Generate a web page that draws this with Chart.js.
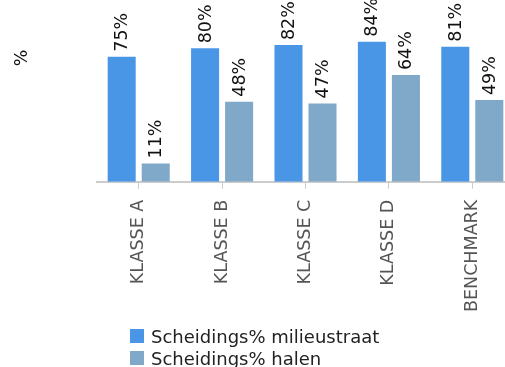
<!DOCTYPE html>
<html>
<head>
<meta charset="utf-8">
<script src="https://cdn.jsdelivr.net/npm/chart.js@4/dist/chart.umd.min.js"></script>
<style>
  html, body { margin:0; padding:0; background:#fff; overflow:hidden; width:505px; height:367px; }
  .wrap { position:relative; width:514px; height:326px; }
  #legend { position:absolute; left:130px; top:325px; font-family:'DejaVu Sans', Verdana, sans-serif; font-size:18px; color:#222; }
  #legend .item { display:flex; align-items:center; height:22px; white-space:nowrap; }
  #legend .box { width:14px; height:14px; margin-right:7px; flex:none; }
</style>
</head>
<body>
<div class="wrap"><canvas id="chart" width="514" height="326"></canvas></div>
<div id="legend"></div>
<script>
// data
const categories = ['KLASSE A', 'KLASSE B', 'KLASSE C', 'KLASSE D', 'BENCHMARK'];
const milieustraat = [75, 80, 82, 84, 81];
const halen = [11, 48, 47, 64, 49];
const seriesNames = ['Scheidings% milieustraat', 'Scheidings% halen'];
const seriesColors = ['#4a96e6', '#80a8c8'];
const axisTitle = '%';

const FONT = "'DejaVu Sans', Verdana, sans-serif";

// labels boven de balken, gedraaid
const barLabels = {
  id: 'barLabels',
  afterDatasetsDraw(chart){
    const ctx = chart.ctx;
    ctx.save();
    ctx.font = '17.5px ' + FONT;
    ctx.fillStyle = '#111';
    ctx.textAlign = 'left';
    ctx.textBaseline = 'middle';
    chart.data.datasets.forEach((ds, i)=>{
      const meta = chart.getDatasetMeta(i);
      meta.data.forEach((el, j)=>{
        ctx.save();
        ctx.translate(el.x + 1, el.y - 5);
        ctx.rotate(-Math.PI/2);
        ctx.fillText(ds.data[j] + '%', 0, 0);
        ctx.restore();
      });
    });
    ctx.restore();
  }
};

// de losse "%" links boven
const sideTitle = {
  id: 'sideTitle',
  afterDraw(chart){
    const ctx = chart.ctx;
    ctx.save();
    ctx.font = '17.5px ' + FONT;
    ctx.fillStyle = '#111';
    ctx.textAlign = 'center';
    ctx.textBaseline = 'middle';
    ctx.translate(22, 58);
    ctx.rotate(-Math.PI/2);
    ctx.fillText(axisTitle, 0, 0);
    ctx.restore();
  }
};

const chart = new Chart(document.getElementById('chart').getContext('2d'), {
  type: 'bar',
  data: {
    labels: categories,
    datasets: [
      { label: seriesNames[0], data: milieustraat, backgroundColor: seriesColors[0] },
      { label: seriesNames[1], data: halen, backgroundColor: seriesColors[1] }
    ]
  },
  options: {
    responsive: false,
    animation: false,
    devicePixelRatio: 1,
    categoryPercentage: 0.816,
    barPercentage: 0.824,
    layout: { padding: { left: 97, top: 15, right: 0, bottom: 3 } },
    plugins: { legend: { display: false }, tooltip: { enabled: false } },
    scales: {
      y: { display: false, min: 0, max: 100 },
      x: {
        grid: { drawOnChartArea: false, drawTicks: true, tickLength: 7, color: '#ccc', offset: false },
        border: { color: '#ccc', width: 2 },
        ticks: { minRotation: 90, maxRotation: 90, padding: 11, color: '#555', font: { family: FONT, size: 17.5 } }
      }
    }
  },
  plugins: [barLabels, sideTitle]
});

// legenda als html, uit de datasets
const legendEl = document.getElementById('legend');
chart.data.datasets.forEach(ds=>{
  const row = document.createElement('div'); row.className = 'item';
  row.innerHTML = '<span class="box" style="background:'+ds.backgroundColor+'"></span><span>'+ds.label+'</span>';
  legendEl.appendChild(row);
});
</script>
</body>
</html>
